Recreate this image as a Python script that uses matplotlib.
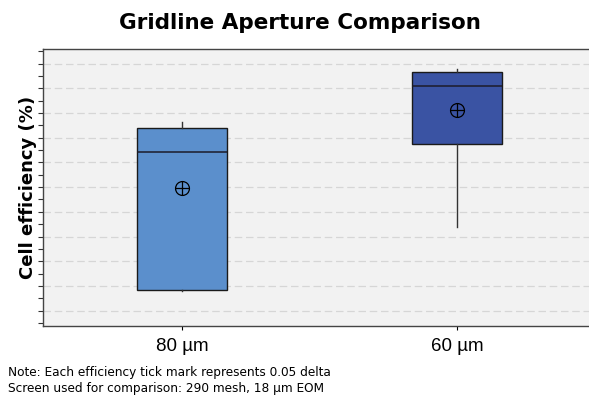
import numpy as np
import matplotlib.pyplot as plt
from matplotlib.path import Path
from matplotlib.ticker import MultipleLocator, NullFormatter

# --- data: box statistics per aperture (cell efficiency, %) ---
labels = ["80 µm", "60 µm"]
whislo = [21.581, 21.840]
q1 = [21.584, 22.174]
med = [22.144, 22.410]
q3 = [22.238, 22.468]
whishi = [22.263, 22.477]
means = [21.996, 22.313]
colors = ["#5b8fcc", "#3a53a3"]

stats = []
for i in range(len(labels)):
    stats.append(dict(label=labels[i], whislo=whislo[i], q1=q1[i], med=med[i],
                      q3=q3[i], whishi=whishi[i], mean=means[i]))

# circle with a cross through it, used as the mean marker
cross = Path([(-1, 0), (1, 0), (0, -1), (0, 1)],
             [Path.MOVETO, Path.LINETO, Path.MOVETO, Path.LINETO])
oplus = Path.make_compound_path(Path.unit_circle(), cross)

# --- plotting ---
fig = plt.figure(figsize=(5.89, 3.97), dpi=100)
ax = fig.add_axes([43 / 589, 71.3 / 397, 550 / 589, 276.4 / 397])
ax.set_facecolor("#f2f2f2")

bp = ax.bxp(stats, positions=[0, 1], widths=0.33, patch_artist=True,
            showmeans=True, showcaps=False, showfliers=False,
            medianprops=dict(color="#1c1c2a", linewidth=1.1),
            whiskerprops=dict(color="#333333", linewidth=1.0),
            meanprops=dict(marker=oplus, markersize=10,
                           markeredgecolor="black", markerfacecolor="none",
                           markeredgewidth=0.9),
            boxprops=dict(edgecolor="#1a1a1a", linewidth=1.0))
for patch, c in zip(bp["boxes"], colors):
    patch.set_facecolor(c)

ax.set_xlim(-0.505, 1.495)
ax.set_ylim(21.439, 22.558)
ax.yaxis.set_major_locator(MultipleLocator(0.1))
ax.yaxis.set_minor_locator(MultipleLocator(0.05))
ax.yaxis.set_major_formatter(NullFormatter())
ax.grid(axis="y", which="major", linestyle=(0, (6, 3)), color="#d6d6d6", linewidth=0.9)
ax.set_axisbelow(True)

ax.tick_params(axis="y", which="both", length=3.5, width=0.8, color="#333333")
ax.tick_params(axis="x", length=3, width=0.8, labelsize=13.5, pad=6)
for lbl in ax.get_xticklabels():
    lbl.set_family("Liberation Sans")

for side in ["left", "top", "bottom"]:
    ax.spines[side].set_color("#444444")
    ax.spines[side].set_linewidth(1.0)
ax.spines["right"].set_visible(False)

ax.set_ylabel("Cell efficiency (%)", fontsize=13, fontweight="bold")
ax.yaxis.set_label_coords(-0.011, 0.5)
fig.suptitle("Gridline Aperture Comparison", x=0.51, y=0.968, fontsize=15.5,
             fontweight="bold")

fig.text(8 / 589, 1 - 366 / 397,
         "Note: Each efficiency tick mark represents 0.05 delta\n"
         "Screen used for comparison: 290 mesh, 18 µm EOM",
         fontsize=8.7, va="top", linespacing=1.3)

fig.savefig("out.png", dpi=100)
